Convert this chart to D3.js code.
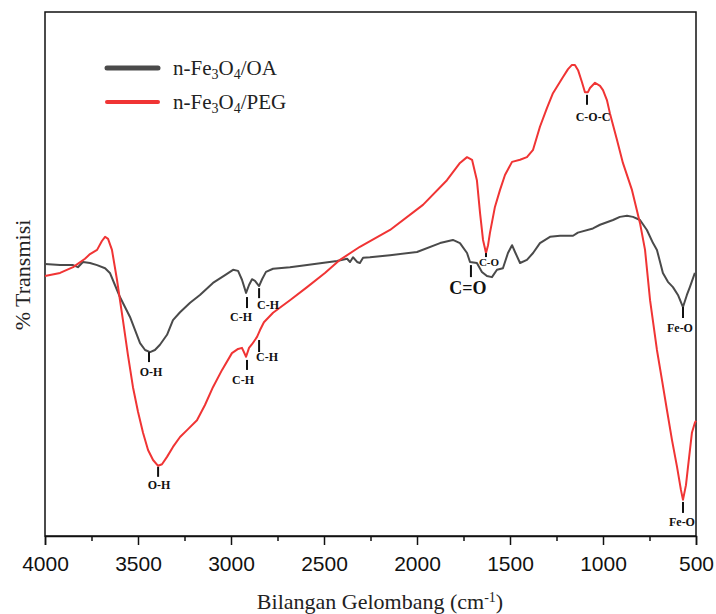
<!DOCTYPE html>
<html>
<head>
<meta charset="utf-8">
<script src="https://d3js.org/d3.v7.min.js"></script>
<style>
    body { margin: 0; background: #fff; }
    svg { display: block; }
</style>
</head>
<body>
<div id="chart"></div>
<script>
// FTIR spectra (wavenumber cm-1, % transmission in arbitrary units)
var oaWn = [4000, 3919, 3849, 3823, 3796, 3758, 3720, 3677, 3651, 3624, 3597, 3543, 3489, 3462, 3435, 3409, 3382, 3344, 3312, 3274, 3220, 3167, 3097, 3032, 2989, 2962, 2941, 2919, 2903, 2887, 2871, 2849, 2833, 2812, 2774, 2683, 2591, 2430, 2376, 2360, 2344, 2322, 2307, 2290, 2253, 2145, 2000, 1876, 1807, 1769, 1731, 1715, 1678, 1651, 1624, 1597, 1570, 1538, 1511, 1489, 1473, 1446, 1409, 1376, 1339, 1285, 1231, 1161, 1135, 1054, 1016, 946, 909, 871, 839, 801, 764, 731, 710, 678, 651, 624, 597, 570, 549, 533, 506];
var oaT  = [51.9, 51.7, 51.7, 51.3, 52.3, 52.1, 51.7, 51.1, 50.2, 47.9, 45.6, 41.8, 36.8, 35.5, 35.1, 35.5, 36.5, 38.4, 41.2, 42.7, 44.5, 46.0, 48.3, 49.8, 50.8, 50.6, 48.9, 46.4, 47.9, 49.0, 48.7, 47.7, 49.0, 50.4, 51.0, 51.3, 51.7, 52.5, 52.9, 52.3, 53.2, 52.3, 52.1, 53.1, 53.2, 53.6, 54.2, 55.9, 56.5, 55.9, 54.0, 52.3, 52.1, 50.4, 49.6, 49.4, 50.8, 51.1, 54.0, 55.5, 54.2, 52.1, 52.7, 54.0, 55.9, 57.1, 57.3, 57.3, 57.9, 58.7, 59.4, 60.3, 60.9, 61.1, 60.9, 60.3, 58.4, 55.9, 54.6, 50.2, 48.5, 47.5, 46.0, 43.7, 46.0, 47.5, 50.2];

var pegWn = [4000, 3973, 3919, 3849, 3785, 3758, 3720, 3694, 3677, 3661, 3640, 3613, 3581, 3554, 3527, 3500, 3473, 3446, 3419, 3392, 3371, 3344, 3312, 3274, 3231, 3183, 3140, 3097, 3048, 2995, 2962, 2941, 2919, 2903, 2887, 2860, 2844, 2823, 2774, 2683, 2591, 2495, 2414, 2307, 2145, 1968, 1839, 1769, 1731, 1704, 1678, 1661, 1645, 1629, 1618, 1608, 1581, 1554, 1527, 1489, 1446, 1409, 1376, 1339, 1301, 1269, 1215, 1188, 1167, 1151, 1134, 1113, 1097, 1081, 1070, 1043, 1016, 1000, 979, 963, 925, 893, 844, 801, 774, 747, 710, 683, 656, 629, 602, 581, 570, 554, 543, 522, 506, 500];
var pegT  = [49.6, 49.8, 50.2, 51.3, 52.9, 53.8, 54.6, 56.3, 57.1, 56.7, 54.6, 48.9, 41.2, 34.5, 28.4, 23.7, 19.7, 16.4, 14.5, 13.4, 13.7, 15.1, 17.0, 18.9, 20.4, 22.1, 25.0, 28.4, 31.7, 34.9, 35.7, 35.9, 34.2, 35.9, 36.6, 38.0, 39.3, 40.8, 42.6, 45.0, 47.5, 50.2, 52.7, 55.2, 58.4, 63.2, 67.9, 71.2, 72.3, 71.8, 67.9, 61.6, 56.5, 54.0, 55.5, 57.8, 62.8, 66.0, 68.9, 71.4, 71.8, 72.3, 73.7, 78.1, 81.7, 84.5, 87.6, 89.1, 89.9, 89.9, 88.9, 86.6, 84.7, 84.7, 85.5, 86.5, 85.9, 85.1, 83.2, 80.7, 75.6, 71.2, 66.0, 59.7, 54.6, 45.0, 35.5, 29.8, 24.0, 18.3, 13.2, 8.8, 6.9, 9.7, 13.2, 19.7, 21.6, 22.0];

var majorTicks = [4000, 3500, 3000, 2500, 2000, 1500, 1000, 500];
var minorTicks = [3750, 3250, 2750, 2250, 1750, 1250, 750];

// peak labels: wavenumber, value at top of the marker line, text
var annWn   = [3441, 2914, 2849, 3392, 2914, 2849, 1710, 1629, 1086, 570, 570];
var annT    = [35.1, 45.6, 47.3, 13.2, 33.6, 37.4, 51.7, 54.0, 84.2, 43.7, 6.5];
var annText = ["O-H", "C-H", "C-H", "O-H", "C-H", "C-H", "C=O", "C-O", "C-O-C", "Fe-O", "Fe-O"];
// label layout: marker length, text dx, text baseline below marker end, font size
var annLayout = [
    [10, 2, 14, 12], [11, -6, 13, 12], [10, 9, 11, 12],
    [10, 1, 12, 12], [10, -4, 14, 12], [12, 8, 9, 12],
    [12, -3, 17, 18], [4, 3, 9, 11], [10, 6, 16, 12],
    [11, -3, 14, 12], [11, -1, 13, 12]
];

var W = 716, H = 614;
var plotL = 45, plotR = 696, plotT = 12, plotB = 536;
var grey = "#4a4a4a", red = "#f03434";

var svg = d3.select("#chart").append("svg")
    .attr("width", W).attr("height", H);

var x = d3.scaleLinear().domain([4000, 500]).range([plotL, plotR]);
var y = d3.scaleLinear().domain([0, 100]).range([plotB, plotT]);

// frame
svg.append("rect")
    .attr("x", plotL).attr("y", plotT)
    .attr("width", plotR - plotL).attr("height", plotB - plotT)
    .attr("fill", "none").attr("stroke", "#111").attr("stroke-width", 1.5);

// x axis, major + minor ticks
var ax = svg.append("g")
    .attr("transform", "translate(0," + plotB + ")")
    .call(d3.axisBottom(x).tickValues(majorTicks).tickSize(9).tickPadding(11).tickFormat(d3.format("d")));
ax.select(".domain").attr("stroke", "#111").attr("stroke-width", 1.5);
ax.selectAll(".tick line").attr("stroke", "#111").attr("stroke-width", 1.5);
ax.selectAll("text")
    .attr("font-family", "Liberation Sans, Arial, sans-serif")
    .attr("font-size", 21).attr("fill", "#111");

var axm = svg.append("g")
    .attr("transform", "translate(0," + plotB + ")")
    .call(d3.axisBottom(x).tickValues(minorTicks).tickSize(5).tickFormat(""));
axm.select(".domain").remove();
axm.selectAll(".tick line").attr("stroke", "#111").attr("stroke-width", 1.5);

// axis titles
var title = svg.append("text")
    .attr("x", 380).attr("y", 609)
    .attr("text-anchor", "middle")
    .attr("font-family", "Liberation Serif, serif")
    .attr("font-size", 22).attr("fill", "#222");
title.append("tspan").text("Bilangan Gelombang (cm");
title.append("tspan").attr("baseline-shift", "super").attr("font-size", 14).text("-1");
title.append("tspan").text(")");

svg.append("text")
    .attr("transform", "translate(30,275) rotate(-90)")
    .attr("text-anchor", "middle")
    .attr("font-family", "Liberation Serif, serif")
    .attr("font-size", 22).attr("fill", "#222")
    .text("% Transmisi");

// spectra
var line = d3.line()
    .x(function(d) { return x(d[0]); })
    .y(function(d) { return y(d[1]); });

svg.append("path")
    .datum(d3.zip(oaWn, oaT))
    .attr("d", line)
    .attr("fill", "none").attr("stroke", grey).attr("stroke-width", 2)
    .attr("stroke-linejoin", "round");

svg.append("path")
    .datum(d3.zip(pegWn, pegT))
    .attr("d", line)
    .attr("fill", "none").attr("stroke", red).attr("stroke-width", 2)
    .attr("stroke-linejoin", "round");

// peak labels
annWn.forEach(function(wn, i) {
    var lay = annLayout[i];
    var px = x(wn), py = y(annT[i]);
    svg.append("line")
        .attr("x1", px).attr("x2", px)
        .attr("y1", py).attr("y2", py + lay[0])
        .attr("stroke", "#111").attr("stroke-width", 2);
    svg.append("text")
        .attr("x", px + lay[1]).attr("y", py + lay[0] + lay[2])
        .attr("text-anchor", "middle")
        .attr("font-family", "Liberation Serif, serif")
        .attr("font-weight", "bold")
        .attr("font-size", lay[3]).attr("fill", "#111")
        .text(annText[i]);
});

// legend
var legend = [
    { color: grey, name: ["n-Fe", "3", "O", "4", "/OA"], width: 5 },
    { color: red, name: ["n-Fe", "3", "O", "4", "/PEG"], width: 4 }
];
legend.forEach(function(l, i) {
    var ly = 68 + i * 34;
    svg.append("line")
        .attr("x1", 107).attr("x2", 158)
        .attr("y1", ly).attr("y2", ly)
        .attr("stroke", l.color).attr("stroke-width", l.width)
        .attr("stroke-linecap", "round");
    var t = svg.append("text")
        .attr("x", 173).attr("y", ly + 7)
        .attr("font-family", "Liberation Serif, serif")
        .attr("font-size", 21).attr("fill", "#222");
    l.name.forEach(function(part, j) {
        var s = t.append("tspan").text(part);
        if (j % 2 === 1) s.attr("dy", 4).attr("font-size", 14);
        else if (j > 0) s.attr("dy", -4);
    });
});
</script>
</body>
</html>
